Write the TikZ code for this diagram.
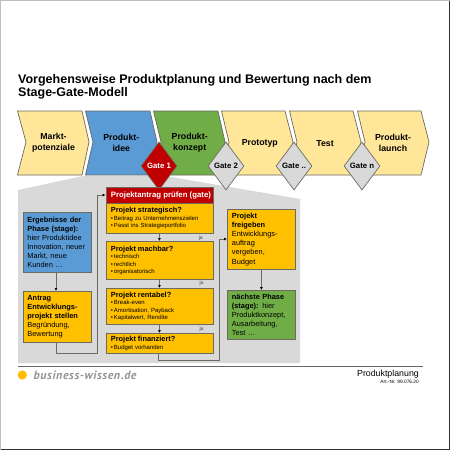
\documentclass[tikz,border=0pt]{standalone}
\usepackage{fontspec}
\setmainfont{Liberation Sans}
\newfontfamily\logofont[LetterSpace=5]{PT Sans}
\definecolor{ylw}{HTML}{FFE699}
\definecolor{blu}{HTML}{5B9BD5}
\definecolor{grn}{HTML}{70AD47}
\definecolor{org}{HTML}{FFC000}
\definecolor{rd}{HTML}{C00000}
\definecolor{gry}{HTML}{D9D9D9}
\definecolor{edge}{HTML}{6B6B5F}
\tikzset{
  x=1pt,y=-1pt,
  chev/.style={draw=edge,line width=.7pt},
  chevtxt/.style={font=\fontsize{8.75}{10.6}\selectfont\bfseries,align=center,text=black,inner sep=0},
  gatebox/.style={diamond,aspect=.75,minimum width=36pt,minimum height=48pt,inner sep=0,draw=edge,line width=.7pt,fill=gry},
  gatetxt/.style={font=\fontsize{7.8}{9}\selectfont\bfseries,inner sep=0},
  card/.style={draw=edge,line width=.8pt,fill=org,rectangle,anchor=north west,align=left,inner xsep=4.5pt,inner ysep=3pt,font=\fontsize{7.4}{9.1}\selectfont},
  sub/.style={draw=edge,line width=.8pt,fill=org,rectangle,anchor=north west,align=left,inner xsep=5pt,inner ysep=2.5pt,font=\fontsize{6}{7.5}\selectfont},
  conn/.style={draw=edge,line width=.7pt,-{Latex[length=3pt,width=3pt,black]}},
  jalab/.style={font=\fontsize{5}{6}\selectfont,inner sep=0,text=black!75},
}
\usetikzlibrary{shapes.geometric,arrows.meta}
\newcommand{\hd}[1]{{\fontsize{7.4}{9}\selectfont\bfseries #1}}
\newcommand{\bl}{\textbullet\,}
\begin{document}
\begin{tikzpicture}
\useasboundingbox (0,0) rectangle (450,450);
\fill[white] (0,0) rectangle (450,450);
% frame
\draw[line width=1pt,black!25] (.5,449.5) -- (.5,.5) -- (449.5,.5);
\draw[line width=1pt,black!80] (449.5,.5) -- (449.5,449.5) -- (.5,449.5);
% title
\node[anchor=north west,inner sep=0,align=left,font=\fontsize{12.5}{13.5}\selectfont\bfseries] (title) at (18,74) {Vorgehensweise Produktplanung und Bewertung nach dem\\Stage-Gate-Modell};
% gray area
\fill[gry] (18,190) -- (83,176) -- (165,176) -- (300,199) -- (300,363) -- (18,363) -- cycle;
% chevrons
\draw[chev,fill=ylw] (17.5,111) -- (82,111) -- (89,142) -- (82,175) -- (17.5,175) -- (26,142) -- cycle;
\draw[chev,fill=blu] (85.5,111) -- (150,111) -- (157,142) -- (150,175) -- (85.5,175) -- (93,142) -- cycle;
\draw[chev,fill=grn] (153.5,111) -- (218,111) -- (225,142) -- (218,175) -- (153.5,175) -- (161,142) -- cycle;
\draw[chev,fill=ylw] (221.5,111) -- (285,111) -- (293,142) -- (285,175) -- (221.5,175) -- (229,142) -- cycle;
\draw[chev,fill=ylw] (289.5,111) -- (353,111) -- (361,142) -- (353,175) -- (289.5,175) -- (297,142) -- cycle;
\draw[chev,fill=ylw] (357.5,111) -- (421,111) -- (429,142) -- (421,175) -- (357.5,175) -- (365,142) -- cycle;
\node[chevtxt] (c1) at (53.5,143) {Markt-\\potenziale};
\node[chevtxt] (c2) at (121.3,143) {Produkt-\\idee};
\node[chevtxt] (c3) at (189.7,143) {Produkt-\\konzept};
\node[chevtxt] (c4) at (259.8,143.5) {Prototyp};
\node[chevtxt] (c5) at (325,143.5) {Test};
\node[chevtxt] (c6) at (393,143) {Produkt-\\launch};
% gates
\node[gatebox,fill=rd] (g1) at (159,166) {};
\node[gatebox] (g2) at (226,166) {};
\node[gatebox] (g3) at (294,166) {};
\node[gatebox] (g4) at (362,166) {};
\node[gatetxt,text=white] at (g1) {Gate 1};
\node[gatetxt] at (g2) {Gate 2};
\node[gatetxt] at (g3) {Gate ..};
\node[gatetxt] at (g4) {Gate n};
% left boxes
\node[card,fill=blu,minimum width=68pt,minimum height=60pt,text width=59pt] (erg) at (22.5,212) {\textbf{Ergebnisse der}\\\textbf{Phase (stage):}\\hier Produktidee\\Innovation, neuer\\Markt, neue\\Kunden \dots};
\node[card,minimum width=68pt,minimum height=51pt,text width=59pt] (ant) at (22.5,291) {\textbf{Antrag}\\\textbf{Entwicklungs-}\\\textbf{projekt stellen}\\Begründung,\\Bewertung};
% centre
\node[draw=edge,line width=.8pt,fill=rd,anchor=north west,minimum width=107pt,minimum height=16pt,inner sep=0,text=white,font=\fontsize{7.8}{9}\selectfont\bfseries] (hdr) at (105.5,187) {\hspace*{3pt}Projektantrag prüfen (gate)};
\node[sub,minimum width=107pt,minimum height=30pt,text width=97pt] (s1) at (105.5,203) {\hd{Projekt strategisch?}\\\bl Beitrag zu Unternehmenszielen\\\bl Passt ins Strategieportfolio};
\node[sub,minimum width=107pt,minimum height=38pt,text width=97pt] (s2) at (105.5,241) {\hd{Projekt machbar?}\\\bl technisch\\\bl rechtlich\\\bl organisatorisch};
\node[sub,minimum width=107pt,minimum height=36pt,text width=97pt] (s3) at (105.5,288) {\hd{Projekt rentabel?}\\\bl Break-even\\\bl Amortisation, Payback\\\bl Kapitalwert, Rendite};
\node[sub,minimum width=107pt,minimum height=20pt,text width=97pt] (s4) at (105.5,333) {\hd{Projekt finanziert?}\\\bl Budget vorhanden};
% right
\node[card,minimum width=68pt,minimum height=60pt,text width=59pt] (fre) at (227,209) {\textbf{Projekt}\\\textbf{freigeben}\\Entwicklungs-\\auftrag\\vergeben,\\Budget};
\node[card,fill=grn,minimum width=68pt,minimum height=49pt,text width=59pt] (nae) at (227,290) {\textbf{nächste Phase}\\\textbf{(stage):} hier\\Produktkonzept,\\Ausarbeitung,\\Test \dots};
% connectors
\coordinate (a1) at (56,353);
\coordinate (a2) at (97,353);
\coordinate (a3) at (97,195);
\coordinate (b1) at (158,360);
\coordinate (b2) at (219.5,360);
\coordinate (b3) at (219.5,239);
\draw[conn] (erg.south -| a1) -- (ant.north -| a1);
\draw[conn] (ant.south -| a1) -- (a1) -- (a2) -- (a3) -- (a3 -| hdr.west);
\draw[conn] (s1.south) -- (s2.north);
\draw[conn] (s2.south) -- (s3.north);
\draw[conn] (s3.south) -- (s4.north);
\draw[conn] (s4.south -| b1) -- (b1) -- (b2) -- (b3) -- (b3 -| fre.west);
\draw[conn] (fre.south) -- (nae.north);
\node[jalab] (j1) at (200.7,238) {ja};
\node[jalab] (j2) at (201.5,283) {ja};
\node[jalab] (j3) at (201.5,329) {ja};
% footer
\draw[line width=.8pt,black!60] (18,366.8) -- (423,366.8);
\fill[org!95!orange] (22.3,375) circle (4.6);
\node[anchor=west,inner sep=0,text=black!42,font=\logofont\fontsize{12}{13}\selectfont\bfseries\itshape] (logo) at (33.5,375) {business-wissen.de};
\node[anchor=east,inner sep=0,font=\fontsize{8.8}{10}\selectfont] (pp) at (419,374) {Produktplanung};
\node[anchor=east,inner sep=0,font=\fontsize{4.8}{5}\selectfont] (art) at (419,382) {Art.-Nr. 99.076.20};
\end{tikzpicture}
\end{document}
